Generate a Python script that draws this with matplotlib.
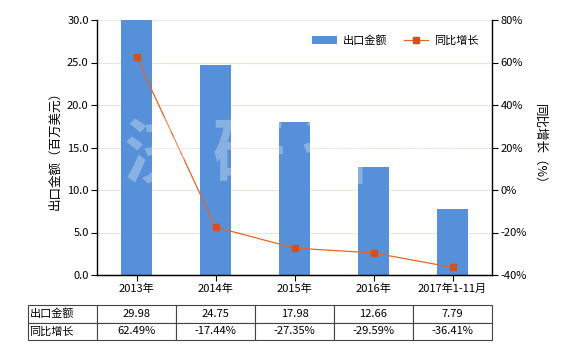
import matplotlib
matplotlib.use("Agg")
import matplotlib.pyplot as plt

plt.rcParams["font.family"] = ["Noto Sans CJK SC", "DejaVu Sans"]
plt.rcParams["font.size"] = 8

categories = ["2013年", "2014年", "2015年", "2016年", "2017年1-11月"]
export_values = [29.98, 24.75, 17.98, 12.66, 7.79]
growth_pct = [62.49, -17.44, -27.35, -29.59, -36.41]
export_labels = ["29.98", "24.75", "17.98", "12.66", "7.79"]
growth_labels = ["62.49%", "-17.44%", "-27.35%", "-29.59%", "-36.41%"]

bar_color = "#5690d8"
line_color = "#e0672a"
marker_color = "#d4501c"

fig = plt.figure(figsize=(5.8, 3.5), dpi=100)
ax = fig.add_axes([97 / 580, 75 / 350, 395 / 580, 255 / 350])
ax2 = ax.twinx()

x = list(range(len(categories)))

# Bars on left axis
ax.bar(x, export_values, width=0.4, color=bar_color, label="出口金额", zorder=2)
ax.set_ylim(0, 30)
ax.set_yticks([0, 5, 10, 15, 20, 25, 30])
ax.set_yticklabels([f"{v:.1f}" for v in [0, 5, 10, 15, 20, 25, 30]])
ax.set_xlim(-0.5, len(categories) - 0.5)
ax.set_xticks(x)
ax.set_xticklabels(categories)
ax.grid(axis="y", color="#e8e6d8", linewidth=0.8, zorder=0)
ax.set_axisbelow(True)
ax.set_ylabel("出口金额（百万美元）", fontsize=9)

# Line on right axis
ax2.plot(x, growth_pct, color=line_color, linewidth=0.9, marker="s",
         markersize=5, markerfacecolor=marker_color, markeredgecolor=marker_color,
         label="同比增长", zorder=3)
ax2.set_ylim(-40, 80)
ax2.set_yticks(range(-40, 81, 20))
ax2.set_yticklabels([f"{v}%" for v in range(-40, 81, 20)])
ax2.set_ylabel("同比增长（%）", fontsize=9, rotation=-90, labelpad=14)

for a in (ax, ax2):
    a.spines["top"].set_visible(False)
    a.tick_params(length=4, width=0.8, pad=2)
ax2.spines["left"].set_visible(False)
ax.spines["right"].set_visible(False)
ax2.spines["right"].set_linewidth(1.0)
ax.spines["left"].set_linewidth(1.0)
ax.spines["bottom"].set_linewidth(1.0)

# Watermark
fig.text(0.505, 0.55, "济 研 咨 询", fontsize=52, color="white", alpha=0.3,
         ha="center", va="center", fontweight="bold", zorder=10)

# Legend
h1, l1 = ax.get_legend_handles_labels()
h2, l2 = ax2.get_legend_handles_labels()
ax2.legend(h1 + h2, l1 + l2, loc="upper right", ncol=2, frameon=False,
           bbox_to_anchor=(0.99, 0.98), fontsize=8, handlelength=2.2,
           columnspacing=1.5, handletextpad=0.5)

# Data table below chart
cell_text = [["出口金额"] + export_labels, ["同比增长"] + growth_labels]
lw = 69 / 395
tbl = ax.table(cellText=cell_text, colWidths=[lw] + [0.2] * 5,
               bbox=[-lw, -0.255, 1 + lw, 0.137], cellLoc="center")
tbl.auto_set_font_size(False)
tbl.set_fontsize(8)
for (r, c), cell in tbl.get_celld().items():
    cell.set_edgecolor("#444444")
    cell.set_linewidth(0.8)
    if c == 0:
        cell.set_text_props(ha="left")
        cell.PAD = 0.02

fig.savefig("out.png", dpi=100)
